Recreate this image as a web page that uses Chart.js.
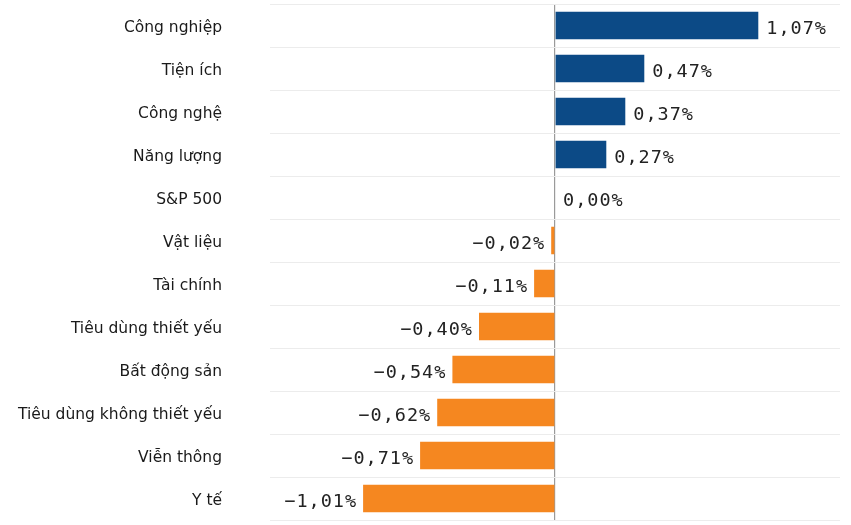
<!DOCTYPE html>
<html>
<head>
<meta charset="utf-8">
<script src="https://cdn.jsdelivr.net/npm/chart.js@4/dist/chart.umd.min.js"></script>
<style>
    html, body { margin: 0; padding: 0; background: #fff; }
    #wrap { width: 851px; height: 525px; }
</style>
</head>
<body>
<div id="wrap"><canvas id="sectorChart"></canvas></div>
<script>
// Data
const sectors = [
    'Công nghiệp', 'Tiện ích', 'Công nghệ', 'Năng lượng', 'S&P 500', 'Vật liệu',
    'Tài chính', 'Tiêu dùng thiết yếu', 'Bất động sản', 'Tiêu dùng không thiết yếu',
    'Viễn thông', 'Y tế'
];
const changes = [1.07, 0.47, 0.37, 0.27, 0.00, -0.02, -0.11, -0.40, -0.54, -0.62, -0.71, -1.01];

const BLUE = '#0c4a86';
const ORANGE = '#f58720';

// Format value as Vietnamese-style percent
function formatPercent(value) {
    return value.toFixed(2).replace('.', ',').replace('-', '\u2212') + '%';
}

// Draw value labels next to bar ends
const valueLabels = {
    id: 'valueLabels',
    afterDatasetsDraw(chart) {
        const { ctx } = chart;
        const meta = chart.getDatasetMeta(0);
        ctx.save();
        ctx.font = '18.5px "DejaVu Sans Mono", monospace';
        ctx.letterSpacing = '1px';
        ctx.fillStyle = '#222';
        ctx.textBaseline = 'alphabetic';
        meta.data.forEach((bar, i) => {
            const v = changes[i];
            if (v < 0) {
                ctx.textAlign = 'right';
                ctx.fillText(formatPercent(v), bar.x - 6, bar.y + 8);
            } else {
                ctx.textAlign = 'left';
                ctx.fillText(formatPercent(v), bar.x + 8, bar.y + 8);
            }
        });
        ctx.restore();
    }
};

new Chart(document.getElementById('sectorChart'), {
    type: 'bar',
    data: {
        labels: sectors,
        datasets: [{
            data: changes,
            backgroundColor: changes.map(v => v >= 0 ? BLUE : ORANGE),
            categoryPercentage: 1,
            barPercentage: 0.64
        }]
    },
    options: {
        indexAxis: 'y',
        responsive: true,
        maintainAspectRatio: false,
        animation: false,
        layout: { padding: { top: 4, bottom: 5, right: 11, left: 0 } },
        plugins: {
            legend: { display: false },
            tooltip: { enabled: false }
        },
        scales: {
            x: {
                min: -1.5,
                max: 1.5,
                ticks: { display: false, stepSize: 0.5 },
                border: { display: false },
                grid: {
                    drawTicks: false,
                    color: (c) => c.tick && c.tick.value === 0 ? '#9a9a9a' : 'rgba(0,0,0,0)',
                    lineWidth: 1.2
                }
            },
            y: {
                // fixed label column, no extra top/bottom padding from tick padding
                afterFit: (axis) => {
                    axis.width = 270;
                    axis.paddingTop = 0;
                    axis.paddingBottom = 0;
                },
                border: { display: false },
                grid: {
                    drawTicks: false,
                    color: '#ececec'
                },
                ticks: {
                    padding: 48,
                    labelOffset: 2,
                    color: '#1a1a1a',
                    font: { family: '"DejaVu Sans", sans-serif', size: 15.5 }
                }
            }
        }
    },
    plugins: [valueLabels]
});
</script>
</body>
</html>
